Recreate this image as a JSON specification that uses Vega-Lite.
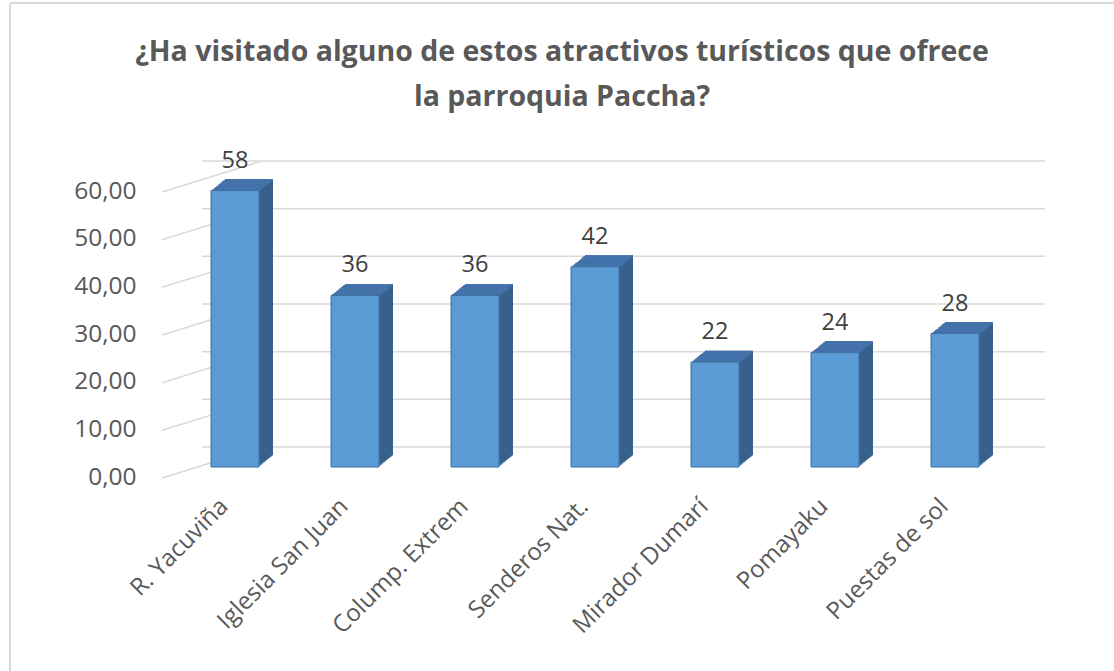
{
  "$schema": "https://vega.github.io/schema/vega-lite/v6.json",
  "autosize": {"type": "none"},
  "padding": {"left": 175, "top": 181, "right": 99, "bottom": 204},
  "width": 840,
  "height": 286,
  "background": "white",
  "config": {"view": {"stroke": null}, "font": "Open Sans"},
  "title": {
    "text": ["¿Ha visitado alguno de estos atractivos turísticos que ofrece", "la parroquia Paccha?"],
    "font": "Open Sans", "fontSize": 28.5, "fontWeight": "bold", "color": "#595959",
    "anchor": "middle", "lineHeight": 45, "dx": -33, "offset": -109
  },
  "data": {"values": [
    {"cat": "R. Yacuviña", "value": 58},
    {"cat": "Iglesia San Juan", "value": 36},
    {"cat": "Colump. Extrem", "value": 36},
    {"cat": "Senderos Nat.", "value": 42},
    {"cat": "Mirador Dumarí", "value": 22},
    {"cat": "Pomayaku", "value": 24},
    {"cat": "Puestas de sol", "value": 28}
  ]},
  "encoding": {
    "x": {"field": "cat", "type": "nominal", "sort": null, "title": null,
      "scale": {"domain": ["R. Yacuviña", "Iglesia San Juan", "Colump. Extrem", "Senderos Nat.", "Mirador Dumarí", "Pomayaku", "Puestas de sol"], "paddingInner": 0, "paddingOuter": 0},
      "axis": {"labelAngle": -45, "labelAlign": "right", "labelBaseline": "top", "labelPadding": 27, "labelOffset": -19, "ticks": false, "domain": false, "grid": false, "labelFontSize": 24, "labelFont": "Open Sans", "labelColor": "#595959"}},
    "y": {"field": "value", "type": "quantitative", "title": null,
      "scale": {"domain": [0, 60], "nice": false},
      "axis": {"values": [0, 10, 20, 30, 40, 50, 60], "labelExpr": "replace(format(datum.value, '.2f'), '.', ',')", "labelOffset": 10, "labelPadding": 39, "ticks": false, "domain": false, "grid": false, "labelFontSize": 24.5, "labelFont": "Open Sans", "labelColor": "#595959"}}
  },
  "layer": [
    {
      "data": {"values": [{"t": 60, "b": 0}]},
      "mark": {"type": "rule", "color": "#D9D9D9", "strokeWidth": 2, "xOffset": -165, "yOffset": -178, "y2Offset": 204},
      "encoding": {
        "x": {"datum": "R. Yacuviña", "bandPosition": 0},
        "y": {"field": "t", "type": "quantitative", "title": null},
        "y2": {"field": "b"}
      }
    },
    {
      "data": {"values": [{"t": 60}]},
      "mark": {"type": "rule", "color": "#D9D9D9", "strokeWidth": 2, "xOffset": -165, "x2Offset": 220, "yOffset": -178},
      "encoding": {
        "x": {"datum": "R. Yacuviña", "bandPosition": 0},
        "x2": {"datum": "Puestas de sol"},
        "y": {"field": "t", "type": "quantitative", "title": null}
      }
    },
    {
      "data": {"values": [{"t": 0}, {"t": 10}, {"t": 20}, {"t": 30}, {"t": 40}, {"t": 50}, {"t": 60}]},
      "mark": {"type": "rule", "color": "#D9D9D9", "strokeWidth": 1.5, "xOffset": 27, "x2Offset": 90, "yOffset": -20},
      "encoding": {
        "x": {"datum": "R. Yacuviña", "bandPosition": 0},
        "x2": {"datum": "Puestas de sol"},
        "y": {"field": "t", "type": "quantitative", "title": null}
      }
    },
    {
      "data": {"values": [{"t": 0}, {"t": 10}, {"t": 20}, {"t": 30}, {"t": 40}, {"t": 50}, {"t": 60}]},
      "mark": {"type": "rule", "color": "#D9D9D9", "strokeWidth": 1.5, "xOffset": -13, "x2Offset": 27, "yOffset": 11, "y2Offset": -20},
      "encoding": {
        "x": {"datum": "R. Yacuviña", "bandPosition": 0},
        "x2": {"datum": "R. Yacuviña"},
        "y": {"field": "t", "type": "quantitative", "title": null},
        "y2": {"field": "t"}
      }
    },
    {"mark": {"type": "bar", "width": 48, "color": "#37608C", "xOffset": 1.4, "yOffset": -1.15, "y2Offset": -1.15}},
    {"mark": {"type": "bar", "width": 48, "color": "#37608C", "xOffset": 2.8, "yOffset": -2.3, "y2Offset": -2.3}},
    {"mark": {"type": "bar", "width": 48, "color": "#37608C", "xOffset": 4.2, "yOffset": -3.45, "y2Offset": -3.45}},
    {"mark": {"type": "bar", "width": 48, "color": "#37608C", "xOffset": 5.6, "yOffset": -4.6, "y2Offset": -4.6}},
    {"mark": {"type": "bar", "width": 48, "color": "#37608C", "xOffset": 7, "yOffset": -5.75, "y2Offset": -5.75}},
    {"mark": {"type": "bar", "width": 48, "color": "#37608C", "xOffset": 8.4, "yOffset": -6.9, "y2Offset": -6.9}},
    {"mark": {"type": "bar", "width": 48, "color": "#37608C", "xOffset": 9.8, "yOffset": -8.05, "y2Offset": -8.05}},
    {"mark": {"type": "bar", "width": 48, "color": "#37608C", "xOffset": 11.2, "yOffset": -9.2, "y2Offset": -9.2}},
    {"mark": {"type": "bar", "width": 48, "color": "#37608C", "xOffset": 12.6, "yOffset": -10.35, "y2Offset": -10.35}},
    {"mark": {"type": "bar", "width": 48, "color": "#37608C", "xOffset": 14, "yOffset": -11.5, "y2Offset": -11.5}},
    {"mark": {"type": "bar", "width": 48, "color": "#4472AA", "xOffset": 1.4, "yOffset": -1.15, "y2Offset": 0.5}, "encoding": {"y2": {"field": "value"}}},
    {"mark": {"type": "bar", "width": 48, "color": "#4472AA", "xOffset": 2.8, "yOffset": -2.3, "y2Offset": -0.65}, "encoding": {"y2": {"field": "value"}}},
    {"mark": {"type": "bar", "width": 48, "color": "#4472AA", "xOffset": 4.2, "yOffset": -3.45, "y2Offset": -1.8}, "encoding": {"y2": {"field": "value"}}},
    {"mark": {"type": "bar", "width": 48, "color": "#4472AA", "xOffset": 5.6, "yOffset": -4.6, "y2Offset": -2.95}, "encoding": {"y2": {"field": "value"}}},
    {"mark": {"type": "bar", "width": 48, "color": "#4472AA", "xOffset": 7, "yOffset": -5.75, "y2Offset": -4.1}, "encoding": {"y2": {"field": "value"}}},
    {"mark": {"type": "bar", "width": 48, "color": "#4472AA", "xOffset": 8.4, "yOffset": -6.9, "y2Offset": -5.25}, "encoding": {"y2": {"field": "value"}}},
    {"mark": {"type": "bar", "width": 48, "color": "#4472AA", "xOffset": 9.8, "yOffset": -8.05, "y2Offset": -6.4}, "encoding": {"y2": {"field": "value"}}},
    {"mark": {"type": "bar", "width": 48, "color": "#4472AA", "xOffset": 11.2, "yOffset": -9.2, "y2Offset": -7.55}, "encoding": {"y2": {"field": "value"}}},
    {"mark": {"type": "bar", "width": 48, "color": "#4472AA", "xOffset": 12.6, "yOffset": -10.35, "y2Offset": -8.7}, "encoding": {"y2": {"field": "value"}}},
    {"mark": {"type": "bar", "width": 48, "color": "#4472AA", "xOffset": 14, "yOffset": -11.5, "y2Offset": -9.85}, "encoding": {"y2": {"field": "value"}}},
    {"mark": {"type": "bar", "width": 48, "color": "#5B9BD5", "stroke": "#41719C", "strokeWidth": 1}},
    {"mark": {"type": "text", "dy": -30, "fontSize": 23.5, "font": "Open Sans", "color": "#404040", "baseline": "middle"}, "encoding": {"text": {"field": "value", "type": "quantitative"}}}
  ]
}
